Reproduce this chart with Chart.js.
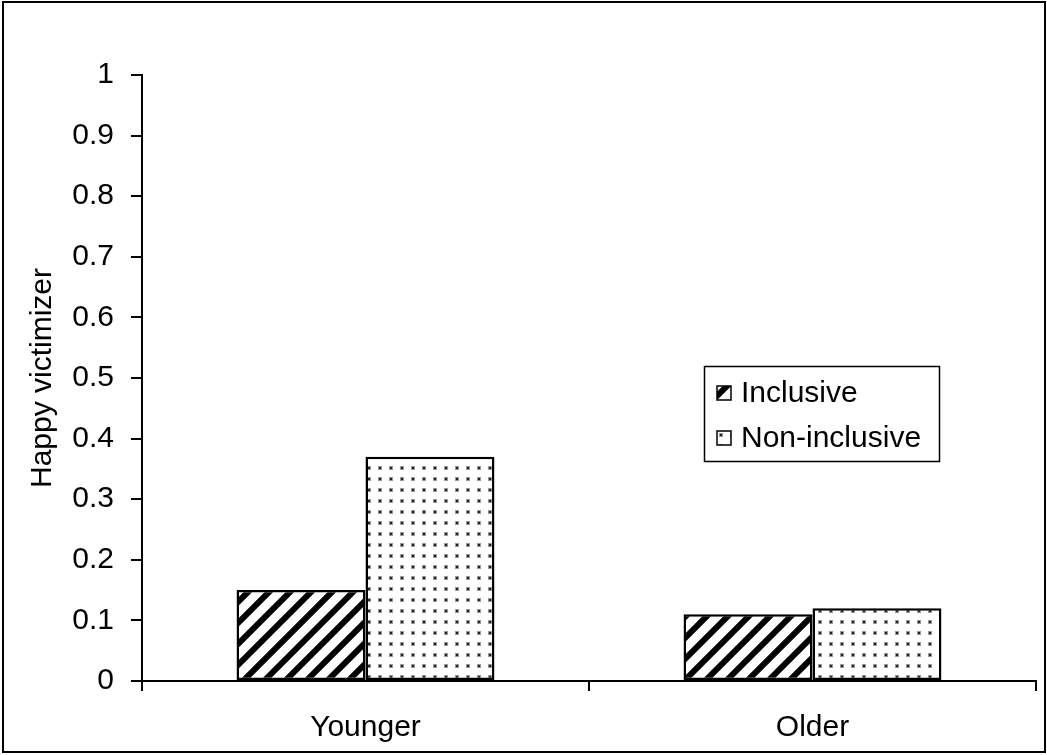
<!DOCTYPE html>
<html>
<head>
<meta charset="utf-8">
<script src="https://cdn.jsdelivr.net/npm/chart.js@4.4.0/dist/chart.umd.min.js"></script>
<style>
  html, body { margin: 0; padding: 0; background: #fff; }
  #wrap { width: 1047px; height: 755px; }
</style>
</head>
<body>
<div id="wrap"><canvas id="myChart" width="1047" height="755"></canvas></div>
<script>
var categories = ["Younger", "Older"];
var inclusiveValues = [0.15, 0.11];
var nonInclusiveValues = [0.37, 0.12];
var seriesNames = ["Inclusive", "Non-inclusive"];
var yTitle = "Happy victimizer";

var FONT = "'Liberation Sans', Arial, sans-serif";

// diagonal hatch "/"
function makeHatch() {
    var p = 21;
    var c = document.createElement('canvas');
    c.width = p; c.height = p;
    var g = c.getContext('2d');
    g.fillStyle = '#fff';
    g.fillRect(0, 0, p, p);
    g.strokeStyle = '#000';
    g.lineWidth = 6;
    g.beginPath();
    g.moveTo(0, p); g.lineTo(p, 0);
    g.moveTo(-p / 2, p / 2); g.lineTo(p / 2, -p / 2);
    g.moveTo(p / 2, p * 1.5); g.lineTo(p * 1.5, p / 2);
    g.stroke();
    return g.createPattern(c, 'repeat');
}

// small dots
function makeDots() {
    var p = 11;
    var c = document.createElement('canvas');
    c.width = p; c.height = p;
    var g = c.getContext('2d');
    g.fillStyle = '#fff';
    g.fillRect(0, 0, p, p);
    g.fillStyle = '#999';
    g.fillRect(4, 4, 4, 4);
    g.fillStyle = '#222';
    g.fillRect(5, 5, 2, 2);
    return g.createPattern(c, 'repeat');
}

var hatch = makeHatch();
var dots = makeDots();

var frameAndLegend = {
    id: 'frameAndLegend',
    afterDraw: function (chart) {
        var ctx = chart.ctx;
        ctx.save();
        // outer border
        ctx.strokeStyle = '#000';
        ctx.lineWidth = 2;
        ctx.strokeRect(3, 2, 1042, 750);

        // legend box
        ctx.lineWidth = 1.5;
        ctx.strokeRect(704.5, 366.5, 235, 95);
        ctx.font = '30px ' + FONT;
        ctx.textBaseline = 'middle';
        ctx.textAlign = 'left';
        var rows = [393, 438];
        chart.data.datasets.forEach(function (ds, i) {
            var y = rows[i];
            ctx.fillStyle = ds.backgroundColor;
            ctx.fillRect(717, y - 7, 14, 14);
            ctx.lineWidth = 1.5;
            ctx.strokeStyle = '#000';
            ctx.strokeRect(717, y - 7, 14, 14);
            ctx.fillStyle = '#000';
            ctx.fillText(ds.label, 741, y + 1);
        });
        ctx.restore();
    }
};

new Chart("myChart", {
    type: "bar",
    data: {
        labels: categories,
        datasets: [{
            label: seriesNames[0],
            data: inclusiveValues,
            backgroundColor: hatch,
            borderColor: "#000",
            borderWidth: 2.5,
            borderSkipped: false
        }, {
            label: seriesNames[1],
            data: nonInclusiveValues,
            backgroundColor: dots,
            borderColor: "#000",
            borderWidth: 2.5,
            borderSkipped: false
        }]
    },
    options: {
        responsive: false,
        animation: false,
        devicePixelRatio: 1,
        layout: { padding: { left: 0, top: 75, right: 11, bottom: 0 } },
        datasets: { bar: { categoryPercentage: 0.577, barPercentage: 1 } },
        plugins: {
            legend: { display: false },
            tooltip: { enabled: false }
        },
        scales: {
            x: {
                grid: { display: true, drawOnChartArea: false, offset: true, color: '#000', lineWidth: 2, tickLength: 10 },
                border: { display: true, color: '#000', width: 2 },
                ticks: { color: '#000', font: { family: FONT, size: 30 }, padding: 19, maxRotation: 0 },
                afterFit: function (s) { s.height = 74; }
            },
            y: {
                min: 0,
                max: 1,
                grid: { display: true, drawOnChartArea: false, color: '#000', lineWidth: 2, tickLength: 11 },
                border: { display: true, color: '#000', width: 2 },
                ticks: {
                    stepSize: 0.1, color: '#000', font: { family: FONT, size: 30 }, padding: 17,
                    callback: function (v) { return String(Math.round(v * 10) / 10); }
                },
                title: { display: true, text: yTitle, color: '#000', font: { family: FONT, size: 30 }, padding: { top: 25, bottom: 0 } },
                afterFit: function (s) { s.width = 142; }
            }
        }
    },
    plugins: [frameAndLegend]
});
</script>
</body>
</html>
